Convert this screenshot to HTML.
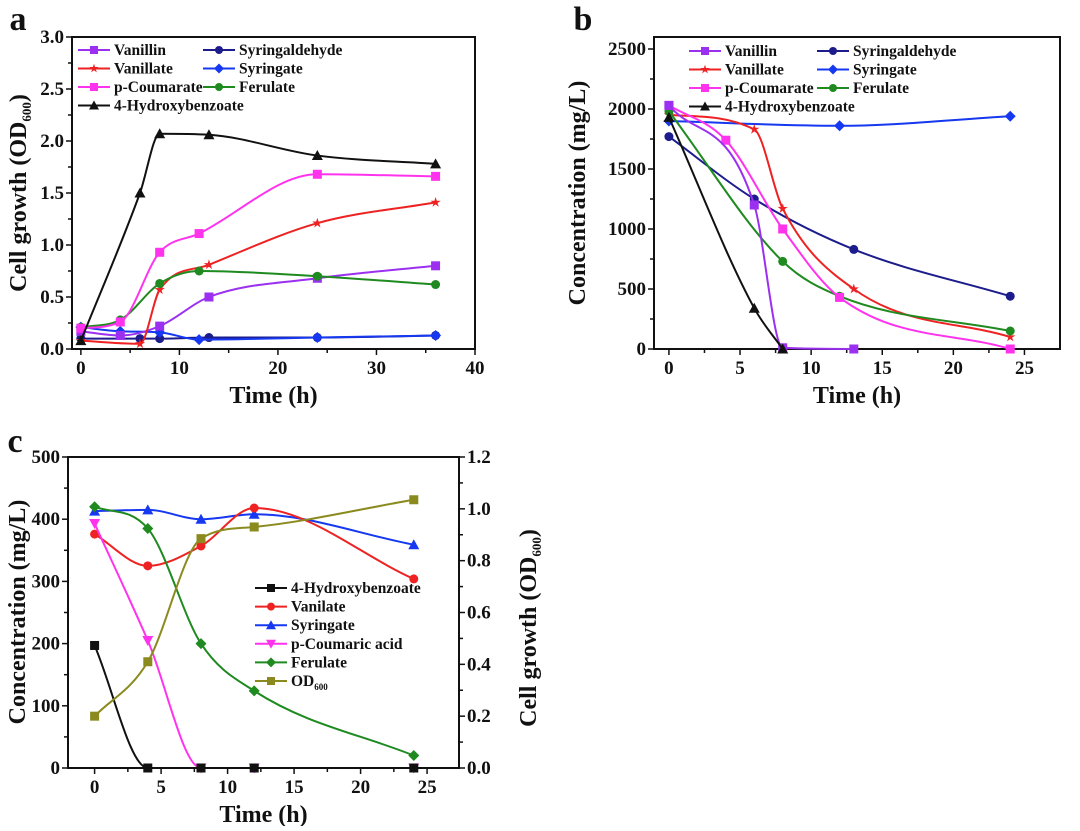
<!DOCTYPE html>
<html><head><meta charset="utf-8"><style>
body{margin:0;background:#fff;}
svg text{font-family:"Liberation Serif",serif;font-weight:bold;fill:#111;}
</style></head><body>
<svg id="fig" width="1080" height="826" xmlns="http://www.w3.org/2000/svg"></svg>
<script>
// ---------- Panel a data ----------
const aVanillin=[[0,.17],[4,.13],[8,.22],[13,.50],[24,.68],[36,.80]];
const aSyringaldehyde=[[0,.10],[6,.10],[8,.10],[13,.11],[24,.11],[36,.13]];
const aVanillate=[[0,.08],[6,.05],[8,.57],[13,.81],[24,1.21],[36,1.41]];
const aSyringate=[[0,.21],[4,.17],[8,.16],[12,.09],[24,.11],[36,.13]];
const aCoumarate=[[0,.20],[4,.26],[8,.93],[12,1.11],[24,1.68],[36,1.66]];
const aFerulate=[[0,.21],[4,.28],[8,.63],[12,.75],[24,.70],[36,.62]];
const aHB=[[0,.08],[6,1.50],[8,2.07],[13,2.06],[24,1.86],[36,1.78]];
const aXTicks=[0,10,20,30,40];
const aYTicks=["0.0","0.5","1.0","1.5","2.0","2.5","3.0"];
// ---------- Panel b data ----------
const bVanillin=[[0,2030],[6,1200],[8,10],[13,0]];
const bSyringaldehyde=[[0,1770],[6,1250],[13,830],[24,440]];
const bVanillate=[[0,1950],[6,1830],[8,1170],[13,500],[24,100]];
const bSyringate=[[0,1900],[12,1860],[24,1940]];
const bCoumarate=[[0,2030],[4,1740],[8,1000],[12,430],[24,0]];
const bFerulate=[[0,1980],[8,730],[12,440],[24,150]];
const bHB=[[0,1930],[6,340],[8,0]];
const bXTicks=[0,5,10,15,20,25];
const bYTicks=[0,500,1000,1500,2000,2500];
// ---------- Panel c data ----------
const cHB=[[0,197],[4,0],[8,0],[12,0],[24,0]];
const cVanilate=[[0,376],[4,325],[8,357],[12,418],[24,304]];
const cSyringate=[[0,413],[4,415],[8,400],[12,408],[24,359]];
const cCoumaric=[[0,393],[4,205],[8,0],[12,0],[24,0]];
const cFerulate=[[0,420],[4,385],[8,200],[12,124],[24,20]];
const cOD=[[0,0.20],[4,0.41],[8,0.885],[12,0.93],[24,1.035]];
const cXTicks=[0,5,10,15,20,25];
const cYTicks=[0,100,200,300,400,500];
const cY2Ticks=["0.0","0.2","0.4","0.6","0.8","1.0","1.2"];

const svg=document.getElementById('fig');
const NS="http://www.w3.org/2000/svg";
function el(tag,attrs,parent){const e=document.createElementNS(NS,tag);for(const k in attrs)e.setAttribute(k,attrs[k]);(parent||svg).appendChild(e);return e;}
function txt(s,x,y,size,anchor,name,parent){const t=el('text',{x:x,y:y,'font-size':size,'text-anchor':anchor||'middle'},parent);t.textContent=s;return t;}

// monotone cubic (Fritsch-Carlson) in pixel space
function spline(pts){
  const n=pts.length;if(n<2)return '';
  const dx=[],m=[],t=new Array(n);
  for(let i=0;i<n-1;i++){dx[i]=pts[i+1][0]-pts[i][0];m[i]=(pts[i+1][1]-pts[i][1])/dx[i];}
  t[0]=m[0];t[n-1]=m[n-2];
  for(let i=1;i<n-1;i++){t[i]=(m[i-1]*m[i]<=0)?0:(m[i-1]+m[i])/2;}
  for(let i=0;i<n-1;i++){
    if(m[i]===0){t[i]=0;t[i+1]=0;continue;}
    const a=t[i]/m[i],b=t[i+1]/m[i],s=a*a+b*b;
    if(s>9){const k=3/Math.sqrt(s);t[i]=k*a*m[i];t[i+1]=k*b*m[i];}
  }
  let d='M'+pts[0][0]+','+pts[0][1];
  for(let i=0;i<n-1;i++){
    const h=dx[i]/3;
    d+=' C'+(pts[i][0]+h)+','+(pts[i][1]+t[i]*h)+' '+(pts[i+1][0]-h)+','+(pts[i+1][1]-t[i+1]*h)+' '+pts[i+1][0]+','+pts[i+1][1];
  }
  return d;
}
function marker(shape,x,y,color,g,s){
  s=s||4.5;let m;
  if(shape==='square')m=el('rect',{x:x-s,y:y-s,width:2*s,height:2*s,fill:color},g);
  else if(shape==='circle')m=el('circle',{cx:x,cy:y,r:s,fill:color},g);
  else if(shape==='tri')m=el('polygon',{points:`${x},${y-s-1} ${x-s-1},${y+s} ${x+s+1},${y+s}`,fill:color},g);
  else if(shape==='dtri')m=el('polygon',{points:`${x},${y+s+1} ${x-s-1},${y-s} ${x+s+1},${y-s}`,fill:color},g);
  else if(shape==='diamond')m=el('polygon',{points:`${x},${y-s-1} ${x+s+1},${y} ${x},${y+s+1} ${x-s-1},${y}`,fill:color},g);
  else if(shape==='star'){let p=[];for(let k=0;k<10;k++){const r=k%2?s*0.45:s*1.2,a=-Math.PI/2+k*Math.PI/5;p.push((x+r*Math.cos(a))+','+(y+r*Math.sin(a)));}m=el('polygon',{points:p.join(' '),fill:color},g);}
  
  
  return m;
}
function series(data,sx,sy,color,shape,name,box){
  const g=el('g',{});
  
  
  const pts=data.map(p=>[sx(p[0]),Math.min(box.b,sy(p[1]))]);
  el('path',{d:spline(pts),fill:'none',stroke:color,'stroke-width':2},g);
  data.forEach(p=>marker(shape,sx(p[0]),sy(p[1]),color,g));
}
function axes(box,xmin,xmax,ymin,ymax,xt,yt,xtitle,ytitle,prefix,minorX,minorY){
  const sx=v=>box.l+(v-xmin)/(xmax-xmin)*(box.r-box.l);
  const sy=v=>box.b-(v-ymin)/(ymax-ymin)*(box.b-box.t);
  const f=el('rect',{x:box.l,y:box.t,width:box.r-box.l,height:box.b-box.t,fill:'none',stroke:'#111','stroke-width':2});
  
  xt.forEach(v=>{const x=sx(+v);el('line',{x1:x,y1:box.b,x2:x,y2:box.b+6,stroke:'#111','stroke-width':1.5});txt(String(v),x,box.b+25,19,'middle',prefix+'-x-tick-label');
    if(minorX){const xm=sx(+v+minorX);if(xm<box.r)el('line',{x1:xm,y1:box.b,x2:xm,y2:box.b+4,stroke:'#111','stroke-width':1.5});}});
  yt.forEach(v=>{const y=sy(+v);el('line',{x1:box.l-6,y1:y,x2:box.l,y2:y,stroke:'#111','stroke-width':1.5});txt(String(v),box.l-8,y+6,19,'end',prefix+'-y-tick-label');
    if(minorY){const ym=sy(+v+minorY);if(ym>box.t)el('line',{x1:box.l-4,y1:ym,x2:box.l,y2:ym,stroke:'#111','stroke-width':1.5});}});
  txt(xtitle,(box.l+box.r)/2,box.b+54,24,'middle',prefix+'-x-axis-title');
  return {sx,sy};
}
function ytitle(s,x,y,name,sub,after){
  const t=el('text',{x:0,y:0,'font-size':24,'text-anchor':'middle',transform:`translate(${x},${y}) rotate(-90)`});
  
  t.appendChild(document.createTextNode(s));
  if(sub){const ts=el('tspan',{'font-size':13,dy:5},t);ts.textContent=sub;const t2=el('tspan',{dy:-5},t);t2.textContent=after;}
}
function legend(items,x,y,dy,name){
  const g=el('g',{});
  items.forEach((it,i)=>{const yy=y+i*dy;
    const e=el('g',{},g);
    el('line',{x1:x,y1:yy,x2:x+32,y2:yy,stroke:it[1],'stroke-width':2},e);
    marker(it[2],x+16,yy,it[1],e,4);
    const t=el('text',{x:x+36,y:yy+5,'font-size':15.5,'text-anchor':'start'},e);
    t.appendChild(document.createTextNode(it[0]));
    if(it[3]){const s=el('tspan',{'font-size':9,dy:4},t);s.textContent=it[3];}
  });
}
const C={vanillin:'#9b30f0',syald:'#1c1c8c',vanillate:'#ee2222',syr:'#1538f0',cou:'#ff33ee',fer:'#1f8a1f',hb:'#111111',od:'#8a8a1e'};

// Panel a
txt('a',18,30,34,'middle','panel-a-label');
let A={l:72,r:475,t:37,b:349};
let sa=axes(A,-0.9,40,0,3,aXTicks,aYTicks,'Time (h)','','a',5,0.25);
ytitle('Cell growth (OD',26,193,'a-y-axis-title','600',')');
series(aSyringaldehyde,sa.sx,sa.sy,C.syald,'circle','a-syringaldehyde-series',A);
series(aSyringate,sa.sx,sa.sy,C.syr,'diamond','a-syringate-series',A);
series(aVanillin,sa.sx,sa.sy,C.vanillin,'square','a-vanillin-series',A);
series(aVanillate,sa.sx,sa.sy,C.vanillate,'star','a-vanillate-series',A);
series(aFerulate,sa.sx,sa.sy,C.fer,'circle','a-ferulate-series',A);
series(aCoumarate,sa.sx,sa.sy,C.cou,'square','a-p-coumarate-series',A);
series(aHB,sa.sx,sa.sy,C.hb,'tri','a-4-hydroxybenzoate-series',A);
legend([['Vanillin',C.vanillin,'square'],['Vanillate',C.vanillate,'star'],['p-Coumarate',C.cou,'square'],['4-Hydroxybenzoate',C.hb,'tri']],78,50,18.5,'a-legend-col1');
legend([['Syringaldehyde',C.syald,'circle'],['Syringate',C.syr,'diamond'],['Ferulate',C.fer,'circle']],203,50,18.5,'a-legend-col2');

// Panel b
txt('b',583,30,34,'middle','panel-b-label');
let B={l:654,r:1060,t:37,b:349};
let sb=axes(B,-1.05,27.5,0,2600,bXTicks,bYTicks,'Time (h)','','b',2.5,250);
ytitle('Concentration (mg/L)',585,193,'b-y-axis-title');
series(bSyringate,sb.sx,sb.sy,C.syr,'diamond','b-syringate-series',B);
series(bSyringaldehyde,sb.sx,sb.sy,C.syald,'circle','b-syringaldehyde-series',B);
series(bVanillate,sb.sx,sb.sy,C.vanillate,'star','b-vanillate-series',B);
series(bFerulate,sb.sx,sb.sy,C.fer,'circle','b-ferulate-series',B);
series(bCoumarate,sb.sx,sb.sy,C.cou,'square','b-p-coumarate-series',B);
series(bVanillin,sb.sx,sb.sy,C.vanillin,'square','b-vanillin-series',B);
series(bHB,sb.sx,sb.sy,C.hb,'tri','b-4-hydroxybenzoate-series',B);
legend([['Vanillin',C.vanillin,'square'],['Vanillate',C.vanillate,'star'],['p-Coumarate',C.cou,'square'],['4-Hydroxybenzoate',C.hb,'tri']],689,51,18.5,'b-legend-col1');
legend([['Syringaldehyde',C.syald,'circle'],['Syringate',C.syr,'diamond'],['Ferulate',C.fer,'circle']],817,51,18.5,'b-legend-col2');

// Panel c
txt('c',15,452,34,'middle','panel-c-label');
let Cb={l:68,r:459,t:457,b:768};
let sc=axes(Cb,-2,27.4,0,500,cXTicks,cYTicks,'Time (h)','','c',2.5,50);
ytitle('Concentration (mg/L)',25,612,'c-y-axis-title');
const sy2=v=>Cb.b-v/1.2*(Cb.b-Cb.t);
cY2Ticks.forEach(v=>{const y=sy2(+v);el('line',{x1:Cb.r,y1:y,x2:Cb.r+6,y2:y,stroke:'#111','stroke-width':1.5});txt(v,Cb.r+8,y+6,19,'start','c-y2-tick-label');
  const ym=sy2(+v+0.1);if(ym>Cb.t)el('line',{x1:Cb.r,y1:ym,x2:Cb.r+4,y2:ym,stroke:'#111','stroke-width':1.5});});
ytitle('Cell growth (OD',536,628,'c-y2-axis-title','600',')');
series(cSyringate,sc.sx,sc.sy,C.syr,'tri','c-syringate-series',Cb);
series(cVanilate,sc.sx,sc.sy,C.vanillate,'circle','c-vanilate-series',Cb);
series(cFerulate,sc.sx,sc.sy,C.fer,'diamond','c-ferulate-series',Cb);
series(cCoumaric,sc.sx,sc.sy,C.cou,'dtri','c-p-coumaric-series',Cb);
series(cHB,sc.sx,sc.sy,C.hb,'square','c-4-hydroxybenzoate-series',Cb);
series(cOD,sc.sx,sy2,C.od,'square','c-od600-series',Cb);
legend([['4-Hydroxybenzoate',C.hb,'square'],['Vanilate',C.vanillate,'circle'],['Syringate',C.syr,'tri'],['p-Coumaric acid',C.cou,'dtri'],['Ferulate',C.fer,'diamond'],['OD',C.od,'square','600']],255,588,18.6,'c-legend');
</script>
</body></html>
